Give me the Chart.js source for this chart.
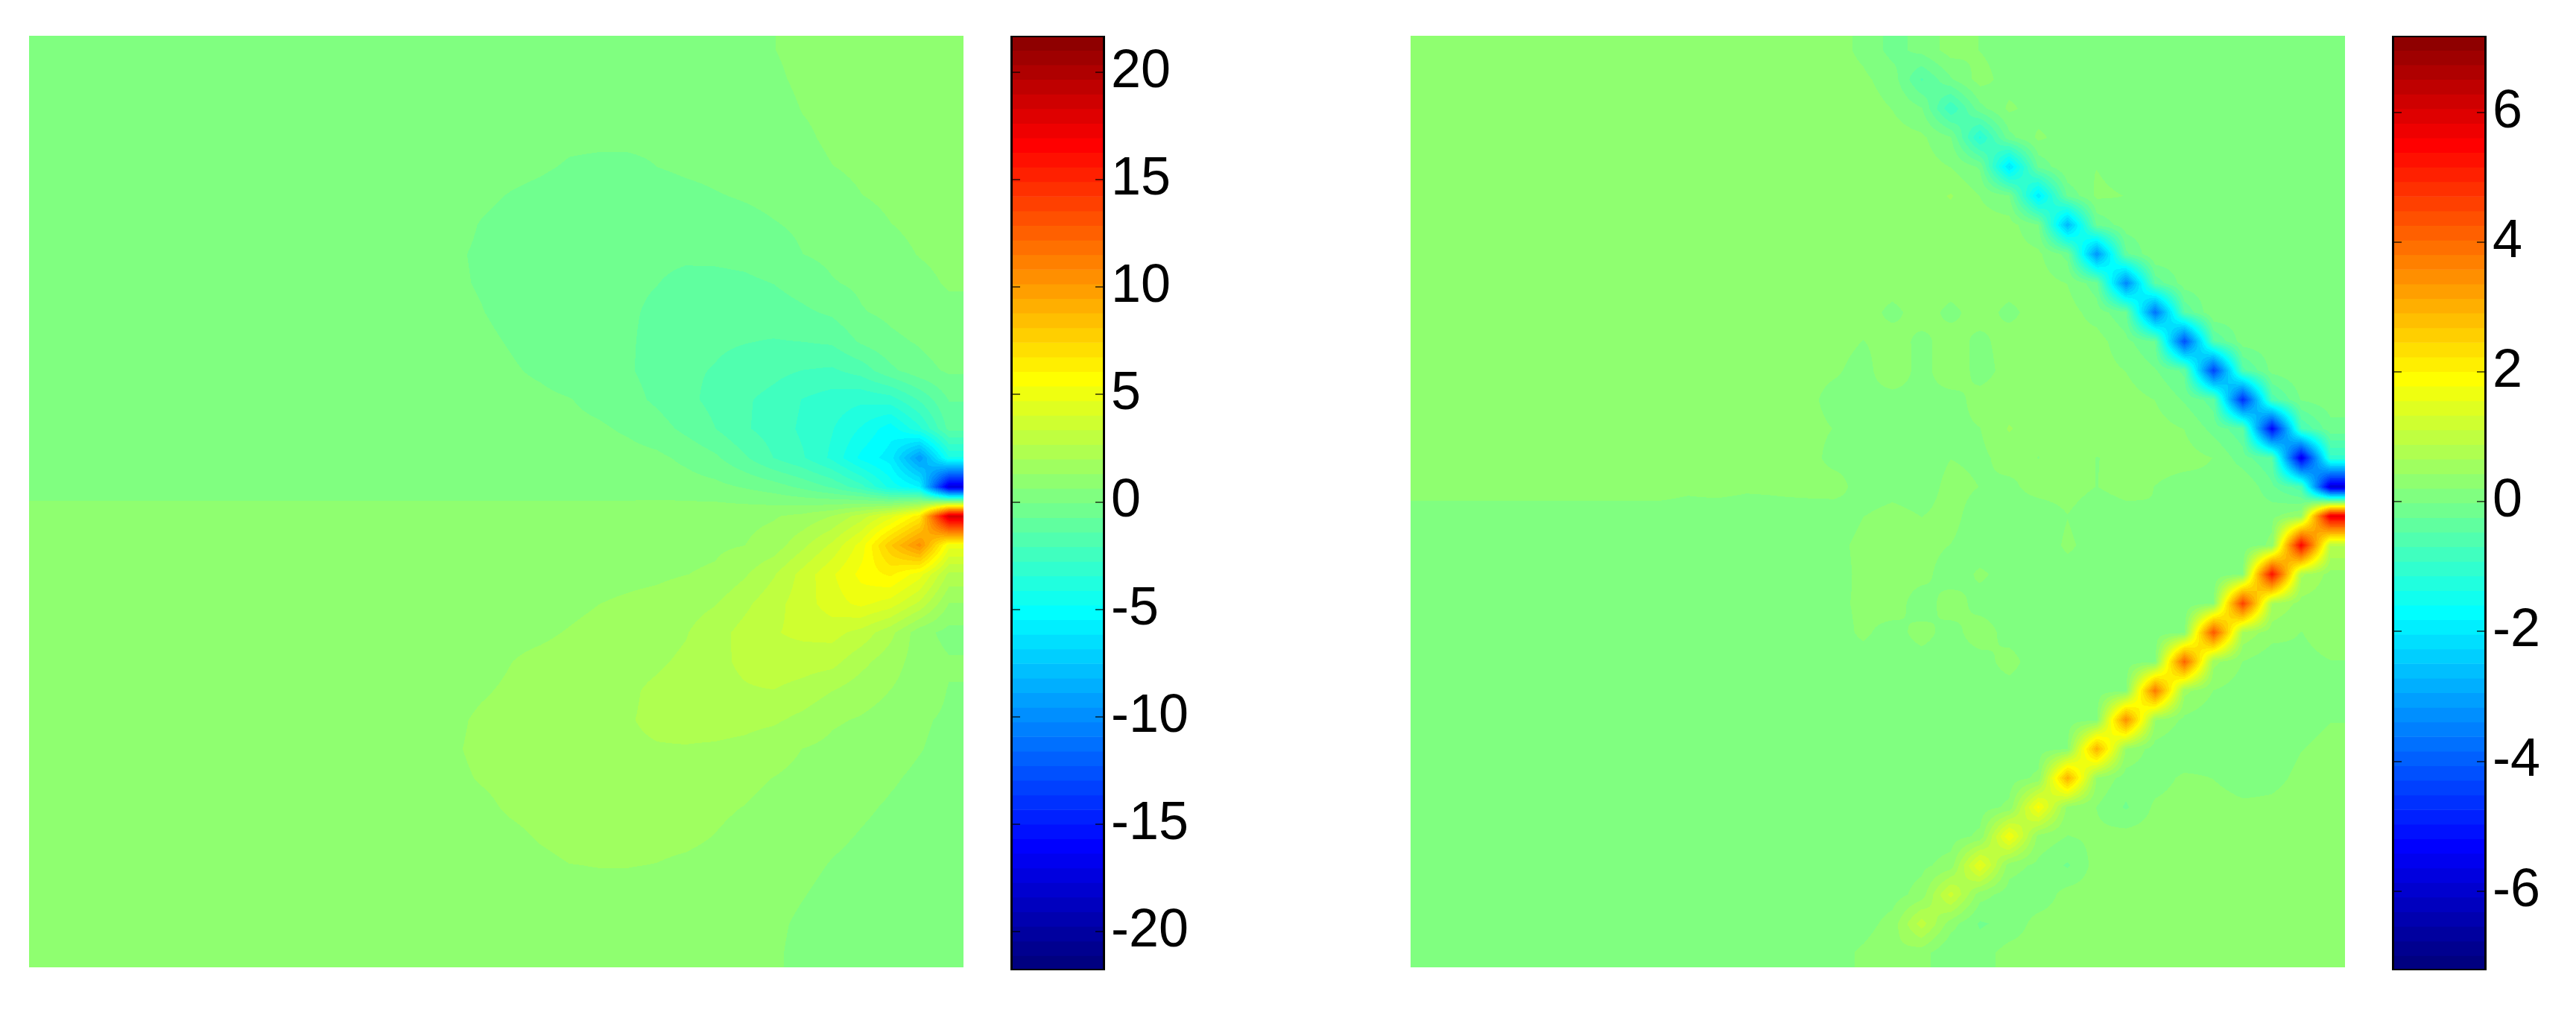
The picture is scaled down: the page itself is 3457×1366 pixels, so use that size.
<!DOCTYPE html>
<html>
<head>
<meta charset="utf-8">
<title>field maps</title>
<script src="https://cdn.jsdelivr.net/npm/chart.js@4/dist/chart.umd.js"></script>
<style>
  html, body { margin: 0; background: #fff; overflow: hidden; }
  canvas { position: absolute; }
</style>
</head>
<body>
<script>
// values, 32 x 32 cells, row 0 on top
const leftField = [
[.3,.3,.3,.3,.3,.3,.3,.3,.3,.3,.3,.3,.3,.3,.3,.3,.3,.3,.3,.3,.3,.3,.3,.3,.45,.62,.75,.8,.85,.85,.85,.85],
[.3,.3,.3,.3,.3,.3,.3,.3,.3,.3,.3,.3,.3,.3,.3,.3,.3,.3,.3,.3,.3,.3,.3,.3,.4,.55,.72,.8,.85,.85,.85,.85],
[.3,.3,.3,.3,.3,.3,.3,.3,.3,.3,.3,.3,.3,.3,.3,.3,.3,.3,.3,.3,.3,.3,.3,.3,.35,.45,.65,.75,.85,.85,.85,.85],
[.3,.3,.3,.3,.3,.3,.3,.3,.3,.3,.3,.3,.3,.3,.3,.3,.25,.15,.05,.05,.05,.05,.15,.25,.3,.4,.55,.72,.8,.85,.9,.9],
[.3,.3,.3,.3,.3,.3,.3,.3,.3,.3,.3,.3,.3,.3,.3,.2,.1,.02,-.1,-.15,-.15,-.05,.08,.15,.25,.35,.45,.62,.72,.8,.85,.9],
[.3,.3,.3,.3,.3,.3,.3,.3,.3,.3,.3,.3,.3,.3,.2,.05,-.08,-.18,-.3,-.4,-.45,-.4,-.25,-.1,.02,.15,.3,.45,.62,.72,.8,.85],
[.3,.3,.3,.3,.3,.3,.3,.3,.3,.3,.3,.3,.3,.3,.12,-.08,-.2,-.32,-.45,-.52,-.56,-.58,-.56,-.48,-.3,-.1,.08,.25,.45,.62,.72,.8],
[.3,.3,.3,.3,.3,.3,.3,.3,.3,.3,.3,.3,.3,.3,.02,-.12,-.28,-.42,-.52,-.58,-.62,-.64,-.66,-.62,-.56,-.4,-.05,.1,.3,.5,.65,.75],
[.3,.3,.3,.3,.3,.3,.3,.3,.3,.3,.3,.3,.3,.3,.04,-.1,-.28,-.45,-.56,-.6,-.64,-.72,-.84,-.88,-.84,-.72,-.45,-.1,.08,.3,.5,.68],
[.3,.3,.3,.3,.3,.3,.3,.3,.3,.3,.3,.3,.3,.3,.12,-.03,-.22,-.4,-.55,-.63,-.66,-.82,-1,-1.15,-1.2,-1.05,-.85,-.62,-.1,.1,.3,.5],
[.3,.3,.3,.3,.3,.3,.3,.3,.3,.3,.3,.3,.3,.3,.22,.08,-.1,-.3,-.5,-.62,-.66,-.9,-1.2,-1.3,-1.38,-1.45,-1.4,-1.3,-.62,-.2,.02,.3],
[.3,.3,.3,.3,.3,.3,.3,.3,.3,.3,.3,.3,.3,.3,.3,.2,.02,-.15,-.4,-.6,-.66,-.95,-1.3,-1.45,-1.7,-1.9,-2.1,-2.2,-1.8,-.9,-.3,.05],
[.3,.3,.3,.3,.3,.3,.3,.3,.3,.3,.3,.3,.3,.3,.3,.3,.15,.1,-.02,-.25,-.5,-.85,-1.25,-1.6,-2,-2.3,-2.8,-3.1,-3.3,-3.1,-2,-.7],
[.3,.3,.3,.3,.3,.3,.3,.3,.3,.3,.3,.3,.3,.3,.3,.3,.3,.2,.12,.05,-.15,-.45,-.9,-1.4,-2,-2.4,-2.9,-3.4,-4.2,-5.2,-3.6,-1.2],
[.3,.3,.3,.3,.3,.3,.3,.3,.3,.3,.3,.3,.3,.3,.3,.3,.3,.3,.25,.22,.2,.1,-.2,-.6,-1.3,-2.1,-2.7,-3.6,-5,-5.8,-9.5,-4.2],
[.3,.3,.3,.3,.3,.3,.3,.3,.3,.3,.3,.3,.3,.3,.3,.3,.3,.3,.3,.3,.3,.3,.25,.15,-.1,-.4,-.9,-1.5,-2.5,-4.4,-5.5,-17.5],
[1,1,1,1,1,1,1,1,1,1,1,1,1,1,1,1,1,1,1,1,1,1.05,1.05,1.1,1.15,1.25,1.5,2,3,4.4,6.5,18.5],
[1,1,1,1,1,1,1,1,1,1,1,1,1,1,1,1,1,1,1,1,1.05,1.1,1.15,1.2,1.3,1.6,2.5,3.5,5,8,10.5,5],
[1,1,1,1,1,1,1,1,1,1,1,1,1,1,1,1,1,1,1,1.1,1.15,1.2,1.3,1.4,1.9,2.6,3.6,4.6,5.6,6.2,5,2.5],
[1,1,1,1,1,1,1,1,1,1,1,1,1,1,1,1,1,1.05,1.15,1.3,1.4,1.5,1.7,1.95,2.5,3.1,3.7,4.4,4.9,4.4,3.2,1.3],
[1,1,1,1,1,1,1,1,1,1,1,1,1,1,1,1.05,1.15,1.2,1.35,1.5,1.6,1.75,1.95,2.4,2.9,3.3,3.5,3.6,3.1,2.2,.9,.4],
[1,1,1,1,1,1,1,1,1,1,1,1,1,1,1.02,1.1,1.3,1.45,1.55,1.7,1.8,1.9,2.1,2.5,2.8,3.1,3,2.9,2.2,1.6,1,.7],
[1,1,1,1,1,1,1,1,1,1,1,1,1,1,1.1,1.25,1.4,1.5,1.6,1.7,1.9,2.1,2.3,2.45,2.6,2.65,2.4,2,1.6,1.3,.95,.6],
[1,1,1,1,1,1,1,1,1,1,1,1,1,1,1.2,1.4,1.5,1.6,1.7,1.8,1.95,2.1,2.2,2.25,2.2,2.1,1.8,1.4,1.25,1.05,.7,.55],
[1,1,1,1,1,1,1,1,1,1,1,1,1,1,1.25,1.42,1.5,1.6,1.7,1.8,1.9,1.95,1.95,1.9,1.8,1.55,1.3,1.15,1,.8,.65,.5],
[1,1,1,1,1,1,1,1,1,1,1,1,1,1,1.2,1.35,1.45,1.55,1.65,1.72,1.75,1.75,1.7,1.6,1.45,1.3,1.15,1,.85,.68,.55,.45],
[1,1,1,1,1,1,1,1,1,1,1,1,1,1,1.05,1.2,1.38,1.48,1.55,1.6,1.6,1.55,1.5,1.38,1.3,1.15,1,.85,.7,.58,.5,.4],
[1,1,1,1,1,1,1,1,1,1,1,1,1,1,1,1.1,1.2,1.35,1.45,1.45,1.45,1.4,1.38,1.3,1.2,1.05,.9,.72,.6,.5,.45,.4],
[1,1,1,1,1,1,1,1,1,1,1,1,1,1,1,1,1.1,1.2,1.3,1.32,1.32,1.3,1.25,1.2,1.1,.95,.75,.6,.5,.45,.4,.4],
[1,1,1,1,1,1,1,1,1,1,1,1,1,1,1,1,1.05,1.1,1.2,1.2,1.2,1.15,1.1,1.05,.95,.8,.65,.5,.45,.4,.4,.4],
[1,1,1,1,1,1,1,1,1,1,1,1,1,1,1,1,1,1,1.05,1.05,1.05,1.05,1.05,1,.9,.72,.55,.45,.4,.4,.4,.4],
[1,1,1,1,1,1,1,1,1,1,1,1,1,1,1,1,1,1,1,1,1,1,1,1,.85,.7,.5,.45,.4,.4,.4,.4]
];
const rightField = [
[.3,.3,.3,.3,.3,.3,.3,.3,.3,.3,.3,.3,.3,.3,.3,.15,-.1,.05,.3,.2,.1,.1,.1,.1,.1,.1,.1,.1,.1,.1,.1,.1],
[.3,.3,.3,.3,.3,.3,.3,.3,.3,.3,.3,.3,.3,.3,.3,.25,.1,-.5,-.05,.3,.1,.1,.1,.1,.1,.1,.1,.1,.1,.1,.1,.1],
[.3,.3,.3,.3,.3,.3,.3,.3,.3,.3,.3,.3,.3,.3,.3,.3,.2,0,-.9,-.1,.25,.1,.1,.1,.1,.1,.1,.1,.1,.1,.1,.1],
[.3,.3,.3,.3,.3,.3,.3,.3,.3,.3,.3,.3,.3,.3,.3,.3,.3,.25,0,-1.2,-.1,.25,.1,.1,.1,.1,.1,.1,.1,.1,.1,.1],
[.3,.3,.3,.3,.3,.3,.3,.3,.3,.3,.3,.3,.3,.3,.3,.3,.3,.3,.2,-.05,-2.1,-.2,.2,.2,.1,.1,.1,.1,.1,.1,.1,.1],
[.3,.3,.3,.3,.3,.3,.3,.3,.3,.3,.3,.3,.3,.3,.3,.3,.3,.3,.45,.2,0,-2,-.2,.25,.2,.1,.1,.1,.1,.1,.1,.1],
[.3,.3,.3,.3,.3,.3,.3,.3,.3,.3,.3,.3,.3,.3,.3,.3,.3,.3,.3,.3,.3,0,-2.7,-.2,.1,.1,.1,.1,.1,.1,.1,.1],
[.3,.3,.3,.3,.3,.3,.3,.3,.3,.3,.3,.3,.3,.3,.3,.3,.3,.3,.3,.3,.3,.25,-.1,-3.2,-.3,.2,.1,.1,.1,.1,.1,.1],
[.3,.3,.3,.3,.3,.3,.3,.3,.3,.3,.3,.3,.3,.3,.3,.3,.3,.3,.3,.3,.3,.3,.2,-.15,-3.4,-.4,.1,.1,.1,.1,.1,.1],
[.3,.3,.3,.3,.3,.3,.3,.3,.3,.3,.3,.3,.3,.3,.3,.3,.15,.3,.15,.3,.15,.3,.3,.1,-.2,-3.7,-.45,.2,.1,.1,.1,.1],
[.3,.3,.3,.3,.3,.3,.3,.3,.3,.3,.3,.3,.3,.3,.3,.2,.3,.15,.3,.15,.3,.25,.3,.3,.05,-.25,-4.2,-.5,.1,.1,.1,.1],
[.3,.3,.3,.3,.3,.3,.3,.3,.3,.3,.3,.3,.3,.3,.25,.1,.4,.1,.4,.1,.3,.3,.3,.3,.2,0,-.3,-4.4,-.55,.05,.15,.1],
[.3,.3,.3,.3,.3,.3,.3,.3,.3,.3,.3,.3,.3,.3,.1,.15,.1,.15,.1,.3,.3,.3,.3,.3,.3,.2,-.05,-.35,-4.7,-.6,0,.1],
[.3,.3,.3,.3,.3,.3,.3,.3,.3,.3,.3,.3,.3,.3,.2,.05,.15,.05,.15,.2,.45,.3,.3,.3,.3,.3,.2,-.1,-.4,-5.3,-.7,-.1],
[.3,.3,.3,.3,.3,.3,.3,.3,.3,.3,.3,.3,.3,.35,.1,.15,.1,.05,.2,.15,.3,.2,.3,.2,.25,.3,.3,.2,-.15,-.45,-5.6,-1],
[.3,.3,.3,.3,.3,.3,.3,.3,.3,.25,.3,.25,.25,.3,.35,.05,.1,.05,.3,.2,.15,.3,.3,.2,.3,.2,.1,.15,.2,-.2,-.6,-5.9],
[.1,.1,.1,.1,.1,.1,.1,.1,.1,.1,.05,.05,.1,.05,0,.2,.3,.2,.3,.05,.1,.05,.2,.05,.1,.2,.1,.1,.1,.15,.4,5.8],
[.1,.1,.1,.1,.1,.1,.1,.1,.1,.1,.1,.1,.1,.05,.1,.3,.25,.3,.2,.05,.1,.05,.25,.1,.1,.1,.1,.1,.05,.25,5.5,.9],
[.1,.1,.1,.1,.1,.1,.1,.1,.1,.1,.1,.1,.05,.1,.05,.3,.3,.3,.05,.25,.1,.1,.1,.1,.1,.1,.1,.05,.2,5.3,.7,.35],
[.1,.1,.1,.1,.1,.1,.1,.1,.1,.1,.1,.1,.1,.1,.15,.25,.35,.05,.35,.1,.1,.1,.1,.1,.1,.1,.05,.2,4.6,.65,.35,.3],
[.1,.1,.1,.1,.1,.1,.1,.1,.1,.1,.1,.1,.05,.15,.1,.25,.1,.3,.1,.35,.1,.1,.1,.1,.1,.1,.15,4.3,.6,.3,.2,.3],
[.1,.1,.1,.1,.1,.1,.1,.1,.1,.1,.1,.1,.1,.1,.1,.1,.1,.1,.1,.1,.3,.05,.05,.1,.1,.15,4.1,.5,.2,.05,.15,.2],
[.1,.1,.1,.1,.1,.1,.1,.1,.1,.1,.1,.1,.1,.1,.1,.1,.1,.1,.1,.1,.1,.1,.1,.1,.15,3.8,.5,.2,.1,.05,.1,.15],
[.1,.1,.1,.1,.1,.1,.1,.1,.1,.1,.1,.1,.1,.1,.1,.1,.1,.1,.1,.1,.1,.1,.1,.15,3.5,.45,.15,.05,.05,.1,.15,.2],
[.1,.1,.1,.1,.1,.1,.1,.1,.1,.1,.1,.1,.1,.1,.1,.1,.1,.1,.1,.1,.1,.1,.2,3,.4,.1,0,.1,.1,.1,.2,.25],
[.1,.1,.1,.1,.1,.1,.1,.1,.1,.1,.1,.1,.1,.1,.1,.1,.1,.1,.1,.1,.1,.25,3,.4,.1,.1,.25,.2,.1,.15,.25,.25],
[.1,.1,.1,.1,.1,.1,.1,.1,.1,.1,.1,.1,.1,.1,.1,.1,.1,.1,.1,.1,.25,1.85,.35,.2,-.05,.25,.3,.3,.25,.25,.3,.3],
[.1,.1,.1,.1,.1,.1,.1,.1,.1,.1,.1,.1,.1,.1,.1,.1,.05,.1,.1,.25,1.8,.35,.2,.25,.3,.3,.3,.3,.3,.3,.3,.3],
[.1,.1,.1,.1,.1,.1,.1,.1,.1,.1,.1,.1,.1,.1,.1,.1,.1,.15,.3,1.6,.3,.15,-.05,.3,.3,.3,.3,.3,.3,.3,.3,.3],
[.1,.1,.1,.1,.1,.1,.1,.1,.1,.1,.1,.1,.1,.1,.1,.05,.1,.3,1.2,.3,.1,.05,.3,.3,.3,.3,.3,.3,.3,.3,.3,.3],
[.1,.1,.1,.1,.1,.1,.1,.1,.1,.1,.1,.1,.1,.1,.1,.1,.3,1,.3,-.05,.05,.3,.3,.3,.3,.3,.3,.3,.3,.3,.3,.3],
[.1,.1,.1,.1,.1,.1,.1,.1,.1,.1,.1,.1,.1,.1,.1,.25,.4,.3,0,.1,.3,.3,.3,.3,.3,.3,.3,.3,.3,.3,.3,.3]
];
const leftTicks = [-20, -15, -10, -5, 0, 5, 10, 15, 20];
const rightTicks = [-6, -4, -2, 0, 2, 4, 6];
const leftRange = [-21.8, 21.7];
const rightRange = [-7.22, 7.18];

const LEVELS = 64;

// MATLAB jet, 64 steps
function jet(i) {
    const t = i / LEVELS;
    const ch = (c) => Math.round(255 * Math.max(0, Math.min(1, 1.5 - Math.abs(4 * t - c))));
    return [ch(3), ch(2), ch(1)];
}
const jetTable = [];
for (let i = 0; i < LEVELS; i++) jetTable.push(jet(i));

// shading interp: cell values are blended first, then looked up in the colormap
const shadePlugin = {
    id: "shade",
    beforeDatasetsDraw(chart) {
        const ds = chart.data.datasets[0];
        const xs = chart.scales.x, ys = chart.scales.y;
        const left = Math.round(xs.left), top = Math.round(ys.top);
        const w = Math.round(xs.width), h = Math.round(ys.height);
        const grid = [];
        ds.data.forEach((p) => {
            (grid[p.y] = grid[p.y] || [])[p.x] = p.v;
        });
        const last = grid.length - 1;
        const img = chart.ctx.createImageData(w, h);
        const span = ds.range[1] - ds.range[0];
        let k = 0;
        for (let py = 0; py < h; py++) {
            const ry = Math.max(0, Math.min(last, ys.getValueForPixel(top + py + 0.5)));
            const r0 = Math.min(last - 1, Math.floor(ry)), fy = ry - r0;
            for (let px = 0; px < w; px++) {
                const rx = Math.max(0, Math.min(last, xs.getValueForPixel(left + px + 0.5)));
                const c0 = Math.min(last - 1, Math.floor(rx)), fx = rx - c0;
                const v = (grid[r0][c0] * (1 - fx) + grid[r0][c0 + 1] * fx) * (1 - fy) +
                    (grid[r0 + 1][c0] * (1 - fx) + grid[r0 + 1][c0 + 1] * fx) * fy;
                let i = Math.floor((v - ds.range[0]) / span * LEVELS);
                i = Math.max(0, Math.min(LEVELS - 1, i));
                const col = jetTable[i];
                img.data[k++] = col[0];
                img.data[k++] = col[1];
                img.data[k++] = col[2];
                img.data[k++] = 255;
            }
        }
        chart.ctx.putImageData(img, left, top);
    },
};

// frame and the small inward ticks of the colorbar
const framePlugin = {
    id: "frame",
    afterDraw(chart) {
        const ctx = chart.ctx, a = chart.chartArea, sc = chart.scales.ticksAxis;
        ctx.save();
        ctx.strokeStyle = "#000";
        ctx.lineWidth = 3;
        ctx.strokeRect(a.left + 1.5, a.top + 0.5, a.width - 3, a.height - 1);
        ctx.lineWidth = 2;
        ctx.strokeStyle = "rgba(0,0,0,0.6)";
        sc.ticks.forEach((t) => {
            const y = Math.round(sc.getPixelForValue(t.value));
            ctx.beginPath();
            ctx.moveTo(a.left, y);
            ctx.lineTo(a.left + 13, y);
            ctx.moveTo(a.right - 13, y);
            ctx.lineTo(a.right, y);
            ctx.stroke();
        });
        ctx.restore();
    },
};

function addCanvas(x, y, w, h) {
    const c = document.createElement("canvas");
    c.width = w;
    c.height = h;
    c.style.left = x + "px";
    c.style.top = y + "px";
    c.style.width = w + "px";
    c.style.height = h + "px";
    document.body.appendChild(c);
    return c;
}

function drawField(x, y, w, h, field, range) {
    const points = [];
    for (let r = 0; r < field.length; r++) {
        for (let c = 0; c < field[r].length; c++) {
            points.push({ x: c, y: r, v: field[r][c] });
        }
    }
    return new Chart(addCanvas(x, y, w, h), {
        type: "scatter",
        data: { datasets: [{ data: points, range: range, pointRadius: 0 }] },
        options: {
            responsive: false,
            animation: false,
            layout: { padding: 0 },
            plugins: { legend: { display: false }, tooltip: { enabled: false } },
            scales: {
                x: { type: "linear", display: false, min: -0.5, max: 31.5 },
                y: { type: "linear", display: false, min: -0.5, max: 31.5, reverse: true },
            },
        },
        plugins: [shadePlugin],
    });
}

function drawColorbar(x, y, barW, h, range, ticks) {
    const labels = [];
    const ones = [];
    for (let i = 0; i < LEVELS; i++) {
        labels.push(i);
        ones.push(1);
    }
    const totalW = barW + 125;
    return new Chart(addCanvas(x, y, totalW, h), {
        type: "bar",
        data: {
            labels: labels,
            datasets: [{
                data: ones,
                backgroundColor: jetTable.map((c) => "rgb(" + c.join(",") + ")"),
                barPercentage: 1,
                categoryPercentage: 1,
                borderWidth: 0,
            }],
        },
        options: {
            indexAxis: "y",
            responsive: false,
            animation: false,
            layout: { padding: 0 },
            plugins: { legend: { display: false }, tooltip: { enabled: false } },
            scales: {
                x: { type: "linear", display: false, min: 0, max: 1 },
                y: { type: "category", display: false, reverse: true },
                ticksAxis: {
                    type: "linear",
                    axis: "y",
                    position: "right",
                    offset: false, // bar charts turn this on for the index axis
                    min: range[0],
                    max: range[1],
                    grid: { display: false },
                    border: { display: false },
                    afterBuildTicks: (sc) => {
                        sc.ticks = ticks.map((v) => ({ value: v }));
                    },
                    afterFit: (sc) => {
                        // keep the bar at full height, labels never reach the ends
                        sc.width = totalW - barW;
                        sc.paddingTop = 0;
                        sc.paddingBottom = 0;
                    },
                    ticks: {
                        color: "#000",
                        font: { family: "'Liberation Sans', Arial, sans-serif", size: 72 },
                        crossAlign: "near",
                        padding: 0,
                        autoSkip: false,
                        callback: (v) => String(v),
                    },
                },
            },
        },
        plugins: [framePlugin],
    });
}

drawField(39, 48, 1254, 1250, leftField, leftRange);
drawColorbar(1356, 48, 127, 1254, leftRange, leftTicks);
drawField(1893, 48, 1254, 1250, rightField, rightRange);
drawColorbar(3210, 48, 127, 1254, rightRange, rightTicks);
</script>
</body>
</html>
